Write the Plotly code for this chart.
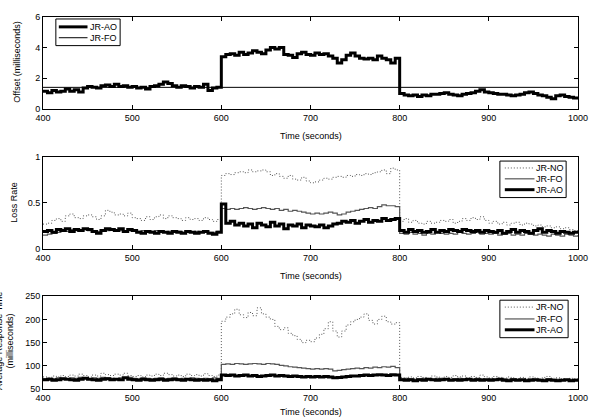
import plotly.graph_objects as go
from plotly.subplots import make_subplots

# time axis: samples every 5 seconds from 400 to 1000
time_s = list(range(400, 1001, 5))

# Panel 1: offset (milliseconds)
offset_ao = [
    1.15, 1.05, 1.2, 1.1, 1.15, 1.3, 1.15, 1.25, 1.1, 1.35,
    1.45, 1.4, 1.35, 1.5, 1.55, 1.45, 1.6, 1.45, 1.5, 1.4,
    1.45, 1.35, 1.4, 1.3, 1.45, 1.5, 1.6, 1.75, 1.65, 1.5,
    1.4, 1.5, 1.45, 1.35, 1.45, 1.4, 1.6, 1.2, 1.35, 1.4,
    3.4, 3.55, 3.6, 3.5, 3.7, 3.55, 3.65, 3.8, 3.7, 3.6,
    3.85, 4.0, 3.9, 4.0, 3.55, 3.5, 3.35, 3.6, 3.7, 3.55,
    3.5, 3.65, 3.55, 3.6, 3.45, 3.3, 3.0, 3.2, 3.5, 3.65,
    3.45, 3.3, 3.25, 3.3, 3.2, 3.45, 3.3, 3.2, 3.0, 3.3,
    1.0, 0.9, 0.85, 0.9, 0.8, 0.9, 0.85, 0.95, 0.95, 1.0,
    1.05, 0.95, 0.9, 0.85, 0.95, 1.0, 1.05, 1.15, 1.25, 1.1,
    1.05, 1.0, 0.95, 0.95, 0.9, 0.85, 0.9, 0.95, 1.05, 1.1,
    1.0, 0.9, 0.85, 0.75, 0.65, 0.85, 0.9, 0.8, 0.75, 0.7, 0.65,
]
offset_fo_time = [400, 1000]
offset_fo = [1.4, 1.4]

# Panel 2: loss rate
loss_no = [
    0.27, 0.28, 0.31, 0.33, 0.30, 0.36, 0.38, 0.34, 0.33, 0.36,
    0.37, 0.35, 0.32, 0.36, 0.42, 0.40, 0.37, 0.38, 0.36, 0.39,
    0.34, 0.33, 0.31, 0.35, 0.32, 0.35, 0.37, 0.33, 0.36, 0.34,
    0.33, 0.31, 0.34, 0.32, 0.33, 0.31, 0.34, 0.32, 0.30, 0.32,
    0.80, 0.82, 0.81, 0.83, 0.84, 0.83, 0.86, 0.84, 0.85, 0.86,
    0.84, 0.80, 0.82, 0.79, 0.77, 0.80, 0.76, 0.75, 0.78, 0.74,
    0.72, 0.73, 0.75, 0.77, 0.76, 0.78, 0.79, 0.78, 0.80, 0.79,
    0.81, 0.80, 0.82, 0.81, 0.83, 0.84, 0.86, 0.82, 0.88, 0.86,
    0.30, 0.33, 0.29, 0.31, 0.28, 0.27, 0.30, 0.28, 0.29, 0.31,
    0.30, 0.32, 0.28, 0.30, 0.33, 0.31, 0.34, 0.32, 0.35, 0.31,
    0.28, 0.30, 0.27, 0.29, 0.26, 0.28, 0.29, 0.26, 0.28, 0.27,
    0.25, 0.26, 0.24, 0.25, 0.23, 0.24, 0.22, 0.23, 0.21, 0.20, 0.19,
]
loss_fo = [
    0.15, 0.16, 0.17, 0.18, 0.20, 0.19, 0.21, 0.20, 0.19, 0.21,
    0.20, 0.20, 0.19, 0.21, 0.20, 0.22, 0.21, 0.20, 0.19, 0.20,
    0.20, 0.19, 0.20, 0.18, 0.19, 0.20, 0.19, 0.18, 0.19, 0.20,
    0.19, 0.18, 0.19, 0.18, 0.19, 0.18, 0.19, 0.18, 0.18, 0.19,
    0.44, 0.43, 0.44, 0.43, 0.44, 0.45, 0.44, 0.43, 0.44, 0.45,
    0.44, 0.43, 0.44, 0.42, 0.43, 0.41, 0.42, 0.41, 0.40, 0.39,
    0.38, 0.39, 0.38, 0.39, 0.40, 0.39, 0.37, 0.38, 0.40, 0.41,
    0.42, 0.43, 0.44, 0.45, 0.44, 0.46, 0.48, 0.47, 0.47, 0.46,
    0.17, 0.16, 0.18, 0.16, 0.17, 0.15, 0.17, 0.16, 0.18, 0.17,
    0.16, 0.17, 0.16, 0.18, 0.17, 0.16, 0.17, 0.18, 0.16, 0.17,
    0.16, 0.17, 0.15, 0.16, 0.17, 0.15, 0.16, 0.15, 0.17, 0.16,
    0.15, 0.16, 0.15, 0.14, 0.16, 0.15, 0.14, 0.16, 0.15, 0.14, 0.15,
]
loss_ao = [
    0.19, 0.20, 0.18, 0.21, 0.20, 0.22, 0.19, 0.21, 0.20, 0.22,
    0.21, 0.19, 0.17, 0.20, 0.22, 0.21, 0.20, 0.22, 0.19, 0.21,
    0.20, 0.18, 0.17, 0.19, 0.18, 0.17, 0.19, 0.18, 0.17, 0.19,
    0.18, 0.17, 0.19, 0.18, 0.17, 0.18, 0.19, 0.17, 0.16, 0.18,
    0.49, 0.28, 0.30, 0.26, 0.28, 0.25, 0.27, 0.23, 0.28, 0.26,
    0.24, 0.29, 0.25, 0.27, 0.22, 0.26, 0.25, 0.27, 0.23, 0.26,
    0.25, 0.24, 0.26, 0.23, 0.25, 0.27, 0.28, 0.30, 0.29, 0.31,
    0.28, 0.30, 0.32, 0.29, 0.31, 0.30, 0.33, 0.31, 0.32, 0.33,
    0.20, 0.18, 0.21, 0.19, 0.20, 0.18, 0.19, 0.21, 0.18, 0.20,
    0.19, 0.21, 0.20, 0.19, 0.21, 0.20, 0.19, 0.20, 0.18, 0.20,
    0.19, 0.18, 0.20, 0.17, 0.19, 0.21, 0.18, 0.20, 0.19, 0.17,
    0.20, 0.22, 0.18, 0.20, 0.19, 0.17, 0.19, 0.18, 0.17, 0.18, 0.18,
]

# Panel 3: response time (milliseconds)
resp_no = [
    76, 75, 78, 76, 79, 77, 80, 78, 82, 79,
    76, 80, 78, 84, 81, 79, 82, 80, 84, 79,
    77, 79, 76, 80, 78, 82, 79, 84, 81, 78,
    80, 77, 82, 79, 81, 78, 83, 79, 77, 80,
    196, 205, 212, 222, 210, 204, 215, 208, 225, 212,
    205, 200, 185, 178, 182, 170, 165, 157, 150, 155,
    152, 160, 168, 180, 195, 175, 162, 175, 188, 195,
    200, 205, 212, 198, 190, 200, 207, 195, 190, 193,
    75, 73, 76, 74, 77, 75, 73, 78, 76, 74,
    77, 75, 79, 76, 78, 74, 77, 75, 80, 76,
    74, 77, 75, 73, 76, 74, 72, 75, 73, 76,
    74, 72, 75, 77, 73, 74, 72, 71, 73, 72, 71,
]
resp_fo = [
    72, 73, 72, 74, 73, 72, 74, 73, 75, 73,
    72, 74, 73, 75, 74, 73, 72, 74, 73, 75,
    73, 72, 74, 73, 72, 73, 74, 72, 73, 74,
    72, 73, 72, 74, 73, 72, 73, 72, 74, 73,
    103, 104, 103, 105, 104, 103, 104, 105, 104, 103,
    105, 104, 103, 101, 100, 98, 97, 96, 95, 94,
    93, 94, 93, 94, 93, 89, 90, 92, 93, 94,
    95, 94, 96, 95, 97, 96, 98, 97, 99, 96,
    72, 73, 72, 71, 72, 73, 72, 71, 73, 72,
    72, 71, 72, 73, 72, 71, 72, 73, 72, 71,
    72, 71, 70, 72, 71, 72, 71, 70, 71, 72,
    71, 70, 71, 72, 70, 71, 70, 69, 70, 71, 70,
]
resp_ao = [
    70, 71, 69, 70, 72, 71, 70, 69, 71, 73,
    71, 70, 69, 71, 72, 70, 71, 70, 74, 71,
    70, 69, 71, 70, 69, 70, 71, 69, 70, 71,
    70, 69, 71, 70, 69, 70, 69, 70, 68, 70,
    80, 79, 80, 78, 79, 80, 78, 79, 77, 78,
    79, 80, 78, 79, 78, 77, 78, 77, 76, 77,
    76, 77, 76, 77, 76, 74, 75, 76, 77, 78,
    78, 79, 80, 79, 80, 81, 80, 79, 81, 80,
    70, 69, 70, 68, 70, 69, 71, 70, 69, 70,
    71, 69, 70, 69, 70, 71, 69, 70, 69, 70,
    69, 70, 71, 69, 68, 70, 69, 70, 68, 69,
    70, 69, 68, 70, 69, 68, 69, 70, 68, 69, 68,
]

x_ticks = [400, 500, 600, 700, 800, 900, 1000]
y1_ticks = [0, 2, 4, 6]
y2_ticks = [0, 0.5, 1]
y3_ticks = [50, 100, 150, 200, 250]

FONT = "Liberation Sans, Arial, Helvetica, sans-serif"

# plot area geometry (pixels)
L, R, T, B = 43, 16, 12, 29
H = 418 - T - B
W = 600 - L - R
def py(p):
    return (418 - B - p) / H
def px_x(p):
    return (p - L) / W

STYLE = {
    "AO": dict(color="black", width=3),
    "FO1": dict(color="black", width=1),
    "FO": dict(color="#555555", width=1.2),
    "NO": dict(color="#555555", width=1, dash="1px,2px"),
}

fig = make_subplots(rows=3, cols=1, vertical_spacing=0.0)

fig.add_trace(go.Scatter(x=time_s, y=offset_ao, name="JR-AO", mode="lines",
                         line=dict(shape="hv", **STYLE["AO"])), row=1, col=1)
fig.add_trace(go.Scatter(x=offset_fo_time, y=offset_fo, name="JR-FO", mode="lines",
                         line=STYLE["FO1"]), row=1, col=1)

fig.add_trace(go.Scatter(x=time_s, y=loss_no, name="JR-NO", mode="lines",
                         line=dict(shape="hv", **STYLE["NO"])), row=2, col=1)
fig.add_trace(go.Scatter(x=time_s, y=loss_fo, name="JR-FO", mode="lines",
                         line=dict(shape="hv", **STYLE["FO"])), row=2, col=1)
fig.add_trace(go.Scatter(x=time_s, y=loss_ao, name="JR-AO", mode="lines",
                         line=dict(shape="hv", **STYLE["AO"])), row=2, col=1)

fig.add_trace(go.Scatter(x=time_s, y=resp_no, name="JR-NO", mode="lines",
                         line=dict(shape="hv", **STYLE["NO"])), row=3, col=1)
fig.add_trace(go.Scatter(x=time_s, y=resp_fo, name="JR-FO", mode="lines",
                         line=dict(shape="hv", **STYLE["FO"])), row=3, col=1)
fig.add_trace(go.Scatter(x=time_s, y=resp_ao, name="JR-AO", mode="lines",
                         line=dict(shape="hv", **STYLE["AO"])), row=3, col=1)

domains = [(py(105), py(12)), (py(247), py(154)), (py(389), py(295))]
axis_common = dict(showline=True, linecolor="black", linewidth=1, mirror="ticks",
                   ticks="inside", ticklen=4, tickcolor="black", showgrid=False, zeroline=False,
                   tickfont=dict(family=FONT, size=9, color="black"))
for i, (lo, hi) in enumerate(domains, start=1):
    fig.update_xaxes(range=[400, 1000], tickvals=x_ticks, domain=[0, 1], row=i, col=1, **axis_common)
    fig.update_yaxes(domain=[lo, hi], row=i, col=1, **axis_common)
fig.update_yaxes(range=[0, 6], tickvals=y1_ticks, row=1, col=1)
fig.update_yaxes(range=[0, 1], tickvals=y2_ticks, row=2, col=1)
fig.update_yaxes(range=[50, 250], tickvals=y3_ticks, row=3, col=1)

ann_font = dict(family=FONT, size=9, color="black")
annotations = []
shapes = []
for yp in [133, 274, 412]:
    annotations.append(dict(text="Time (seconds)", x=0.5, y=py(yp), xref="paper", yref="paper",
                            showarrow=False, xanchor="center", yanchor="middle", font=ann_font))
annotations.append(dict(text="Offset (milliseconds)", x=px_x(17), y=py(58), xref="paper", yref="paper",
                        showarrow=False, textangle=-90, xanchor="center", yanchor="middle", font=ann_font))
annotations.append(dict(text="Loss Rate", x=px_x(13), y=py(200), xref="paper", yref="paper",
                        showarrow=False, textangle=-90, xanchor="center", yanchor="middle", font=ann_font))
annotations.append(dict(text="Average Response Time<br>(milliseconds)", x=px_x(4), y=py(340), xref="paper", yref="paper",
                        showarrow=False, textangle=-90, xanchor="center", yanchor="middle", font=ann_font))

# compact legends drawn as boxes with sample lines and labels (pixel layout)
def add_legend(box, entries, line_x0, line_x1, text_x):
    x0, y0, x1, y1 = box
    shapes.append(dict(type="rect", xref="paper", yref="paper", x0=px_x(x0), x1=px_x(x1),
                       y0=py(y1), y1=py(y0), line=dict(color="black", width=1), fillcolor="white",
                       layer="above"))
    for label, style_key, ypix in entries:
        st = STYLE[style_key]
        shapes.append(dict(type="line", xref="paper", yref="paper", x0=px_x(line_x0), x1=px_x(line_x1),
                           y0=py(ypix), y1=py(ypix), layer="above",
                           line=dict(color=st["color"], width=st["width"], dash=st.get("dash", "solid"))))
        annotations.append(dict(text=label, x=px_x(text_x), y=py(ypix), xref="paper", yref="paper",
                                showarrow=False, xanchor="left", yanchor="middle", font=ann_font))

add_legend((56, 14, 121, 41), [("JR-AO", "AO", 22), ("JR-FO", "FO1", 33)], 59, 88, 89)
add_legend((505, 158, 572, 195), [("JR-NO", "NO", 165), ("JR-FO", "FO", 176), ("JR-AO", "AO", 187)], 510, 540, 540)
add_legend((505, 299, 574, 337), [("JR-NO", "NO", 306), ("JR-FO", "FO", 318), ("JR-AO", "AO", 329)], 510, 540, 540)

fig.update_layout(
    width=600, height=418,
    margin=dict(l=L, r=R, t=T, b=B),
    paper_bgcolor="white", plot_bgcolor="white",
    font=dict(family=FONT, size=9, color="black"),
    showlegend=False,
    annotations=annotations,
    shapes=shapes,
)

fig.write_html("out.html")
